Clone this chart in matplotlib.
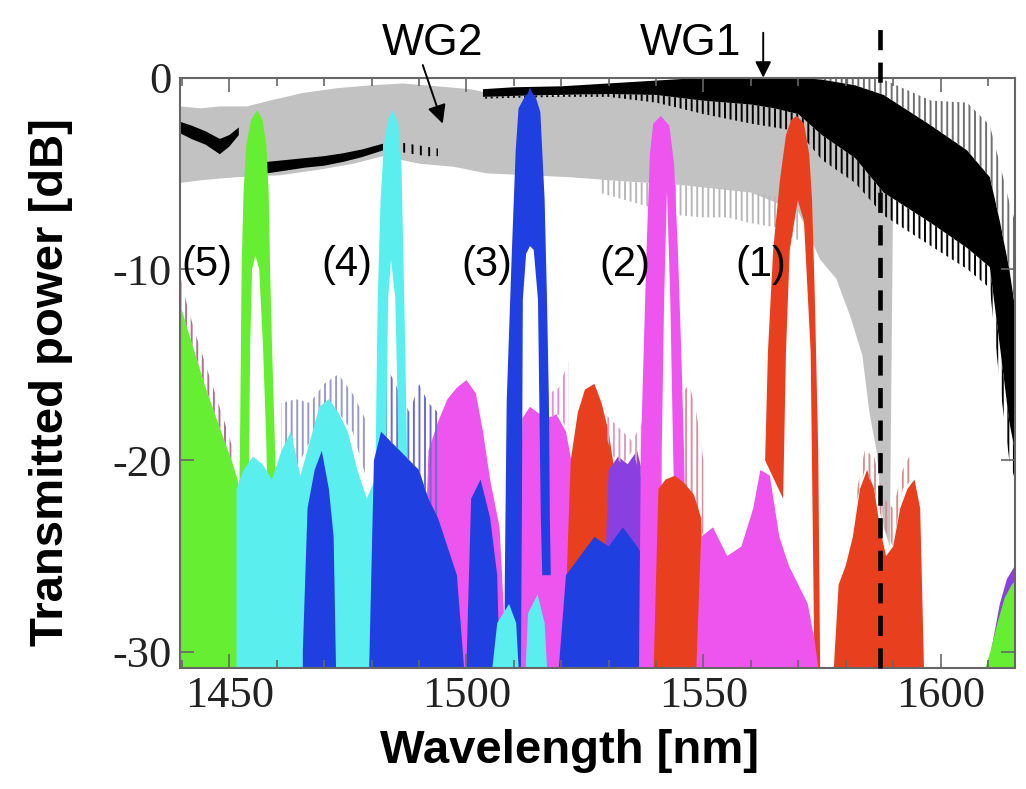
import numpy as np
import matplotlib
matplotlib.use("Agg")
import matplotlib.pyplot as plt

# ---- values: wavelength [nm], power [dB] ----

# WG2 (grey) upper / lower envelopes
wg2_hi_x = [1439.6, 1444, 1448, 1453.7, 1458.5, 1465.5, 1472.7, 1479.7, 1486.6, 1493.8,
            1500.8, 1507.7, 1518.2, 1532.4, 1545, 1560, 1570, 1580, 1587, 1590]
wg2_hi_y = [-1.5, -1.6, -1.5, -1.5, -1.2, -0.8, -0.55, -0.4, -0.3, -0.45,
            -0.6, -0.95, -0.95, -0.8, -0.6, -0.5, -0.6, -0.9, -1.2, -2.0]
wg2_lo_x = [1439.6, 1444.4, 1451.5, 1460.7, 1469.1, 1476.1, 1482.4, 1490.2, 1497.2, 1504.3,
            1521.8, 1532.4, 1545, 1560, 1570, 1574.6, 1578, 1581, 1583.5, 1585, 1586.5,
            1588, 1589.3, 1590]
wg2_lo_y = [-5.5, -5.35, -5.2, -5.1, -4.8, -4.5, -4.1, -4.5, -4.65, -5.0,
            -5.2, -5.4, -5.6, -6.0, -7.0, -9.5, -10.5, -12.5, -14.5, -17.5, -19.5,
            -23.5, -24.5, -6.0]
wg2_teeth_x = [1528, 1535, 1545, 1550, 1555, 1560, 1565, 1570]
wg2_teeth_hi = [-5.3, -5.45, -5.6, -5.7, -5.8, -6.0, -6.2, -7.0]
wg2_teeth_lo = [-6.0, -6.5, -7.2, -7.3, -7.3, -7.6, -7.8, -8.5]

# WG1 (black) in its visible pieces
wg1_a_x = [1439.6, 1442, 1445, 1448, 1450, 1452]
wg1_a_hi = [-2.3, -2.5, -2.8, -3.2, -3.0, -2.6]
wg1_a_lo = [-2.9, -3.2, -3.5, -4.0, -3.6, -3.0]
wg1_b_x = [1457.9, 1462, 1466, 1470, 1474, 1478, 1482.4]
wg1_b_hi = [-4.4, -4.3, -4.2, -4.1, -3.95, -3.75, -3.45]
wg1_b_lo = [-5.0, -4.85, -4.7, -4.6, -4.4, -4.15, -3.8]
wg1_gap_x = [1486.5, 1489, 1491.5, 1494]
wg1_gap_hi = [-3.4, -3.5, -3.6, -3.7]
wg1_gap_lo = [-3.9, -4.0, -4.1, -4.1]
wg1_c_x = [1503.5, 1510, 1520, 1530, 1540, 1550, 1560, 1565, 1570, 1575, 1582, 1588,
           1598, 1605.6, 1610.4, 1612.5, 1614.5, 1615.7]
wg1_c_hi = [-0.6, -0.5, -0.45, -0.3, -0.15, 0.0, 0.0, 0.0, 0.0, -0.1, -0.4, -0.9,
            -2.5, -3.8, -5.2, -7.5, -10.0, -12.0]
wg1_c_lo = [-1.0, -0.95, -0.9, -0.85, -0.9, -1.2, -1.4, -1.6, -1.9, -3.0, -4.2, -6.0,
            -7.6, -8.9, -9.9, -14.0, -18.0, -19.5]
wg1_c_fringe = [-1.1, -1.05, -1.0, -1.0, -1.3, -1.9, -2.4, -2.6, -2.8, -4.3, -5.5, -7.2,
                -8.8, -10.0, -11.0, -16.0, -20.0, -21.0]
wg1_c_halo = [-0.6, -0.5, -0.45, -0.3, -0.15, 0.0, 0.0, 0.0, 0.0, 0.0, 0.0, -0.1,
              -1.2, -1.3, -2.5, -4.5, -6.5, -7.5]

# filter passbands (outline of each peak, outer edge then inner edge)
peak5_x = [1452.0, 1452.3, 1452.6, 1453.0, 1453.6, 1454.6, 1455.9, 1457.0, 1457.8, 1458.3,
           1458.6, 1459.0, 1459.6, 1460.0, 1458.2, 1457.8, 1457.1, 1456.3, 1455.5, 1454.8,
           1454.4, 1454.2, 1454.0]
peak5_y = [-24.0, -18.0, -10.0, -6.0, -3.5, -2.2, -1.7, -2.2, -3.5, -6.0,
           -10.0, -14.0, -19.0, -24.0, -24.0, -19.0, -14.0, -10.0, -9.3, -10.0,
           -14.0, -19.0, -24.0]
peak4_x = [1480.7, 1481.0, 1481.3, 1481.9, 1482.6, 1483.4, 1484.5, 1485.6, 1486.3, 1486.9,
           1487.3, 1487.8, 1485.8, 1485.5, 1485.0, 1484.1, 1483.5, 1483.2, 1483.0]
peak4_y = [-24, -17, -11.6, -6.4, -3.5, -2.2, -1.7, -2.4, -4.5, -11.6,
           -17, -24, -24, -17, -11.5, -9.5, -11.5, -17, -24]
peak3_x = [1508.0, 1508.1, 1508.5, 1509.6, 1510.4, 1511.0, 1512.3, 1513.0, 1513.4, 1513.9,
           1514.6, 1515.6, 1516.5, 1517.0, 1517.4, 1517.6, 1517.8, 1516.0, 1515.7, 1515.1,
           1514.2, 1513.4, 1512.6, 1511.9, 1511.7, 1511.5]
peak3_y = [-30.8, -26.3, -16.9, -9.0, -3.8, -1.6, -1.0, -0.8, -0.5, -0.8,
           -1.0, -1.8, -6.4, -11.6, -16.9, -23.0, -26.0, -26.0, -23.0, -11.6,
           -9.0, -8.8, -9.2, -11.6, -23.0, -30.8]
peak2_x = [1536.4, 1536.8, 1537.4, 1538.0, 1538.7, 1539.4, 1541.0, 1542.8, 1543.8, 1544.6,
           1545.3, 1545.9, 1546.2, 1544.0, 1543.6, 1543.0, 1542.3, 1541.7, 1541.2, 1541.0]
peak2_y = [-30.8, -19.5, -14.2, -9.0, -4.0, -2.4, -2.0, -2.5, -4.5, -9.0,
           -14.2, -19.5, -24.0, -24.0, -19.5, -11.6, -5.9, -11.6, -19.5, -30.8]
peak1_x = [1563.0, 1563.6, 1564.7, 1566.1, 1567.4, 1568.5, 1569.7, 1571.2, 1572.3, 1572.9,
           1573.5, 1574.2, 1574.6, 1573.4, 1572.6, 1571.2, 1569.9, 1568.2, 1567.4, 1567.0,
           1566.8]
peak1_y = [-20.0, -14.3, -9.0, -5.4, -3.0, -2.2, -2.0, -2.4, -4.0, -6.4,
           -11.6, -19.5, -30.8, -30.8, -14.3, -7.5, -6.4, -9.0, -14.3, -19.5,
           -22.0]

# out-of-band noise floors (top edge, filled down to the axis)
green_l_x = [1439.6, 1441, 1443, 1445, 1447, 1449, 1450.5, 1451.5, 1452.2]
green_l_y = [-11.8, -13.0, -14.6, -16.2, -17.6, -19.0, -20.0, -20.8, -21.5]
green_r_x = [1609.5, 1610.5, 1612, 1613.5, 1615, 1615.7]
green_r_y = [-30.8, -30.0, -28.5, -27.2, -26.5, -26.3]
purple_r_x = [1610.0, 1611, 1612.5, 1614, 1615.7]
purple_r_y = [-30.8, -29.5, -27.5, -26.2, -25.5]
cyan_x = [1451.5, 1453, 1455, 1457, 1459, 1461, 1463, 1465, 1467, 1469, 1471, 1473,
          1475, 1477, 1479, 1480.7, 1481.5]
cyan_y = [-21.5, -20.5, -19.8, -20.2, -21.0, -19.5, -18.5, -20.8, -19.0, -17.2, -16.8, -17.5,
          -18.5, -20.5, -22.0, -21.0, -30.8]
cyan_b_x = [1505.5, 1506.5, 1509, 1510.5, 1511.0]
cyan_b_y = [-30.8, -28.5, -27.5, -28.5, -30.8]
cyan_c_x = [1512.5, 1513, 1515, 1516.5, 1517.0]
cyan_c_y = [-30.8, -28.0, -27.0, -28.5, -30.8]
blue_a_x = [1465.5, 1466.5, 1468, 1469.5, 1471, 1472.0, 1472.5]
blue_a_y = [-30.0, -22.5, -20.5, -19.5, -21.5, -24.0, -30.8]
blue_b_x = [1479.5, 1480.5, 1482, 1484, 1486, 1488, 1490, 1492, 1494, 1496, 1498, 1499.5]
blue_b_y = [-30.8, -20.0, -18.5, -19.0, -19.5, -20.0, -20.5, -22.0, -23.0, -24.5, -26.0, -30.8]
blue_c_x = [1500, 1501, 1503, 1505, 1506.5, 1507]
blue_c_y = [-30.8, -22.0, -21.0, -23.0, -26.0, -30.8]
blue_d_x = [1519.5, 1521, 1524, 1527, 1530, 1533, 1536, 1538.5, 1540.5, 1541.5]
blue_d_y = [-30.8, -26.0, -25.0, -24.0, -24.5, -23.5, -24.5, -25.5, -27.0, -30.8]
purple_x = [1528.5, 1530, 1532, 1534, 1536, 1537.5, 1538.5]
purple_y = [-30.8, -20.5, -19.8, -20.2, -19.5, -21.0, -30.8]
magenta_a_x = [1490.5, 1492, 1494, 1496, 1498, 1500, 1502, 1503.5, 1505, 1507, 1508.5]
magenta_a_y = [-30.8, -19.5, -18.0, -16.8, -16.2, -15.8, -16.5, -18.5, -21.0, -23.5, -30.8]
magenta_b_x = [1511.0, 1511.8, 1513.4, 1515.0, 1517.0, 1519.0, 1521.0, 1522.5, 1523.5]
magenta_b_y = [-30.8, -17.8, -17.2, -17.5, -17.8, -17.6, -18.5, -20.5, -30.8]
magenta_c_x = [1548.5, 1549.5, 1552, 1555, 1558, 1560.5, 1562, 1564, 1566, 1568, 1570,
               1572, 1573.5, 1574.2]
magenta_c_y = [-30.8, -24.0, -23.5, -25.0, -24.5, -22.5, -20.5, -20.8, -24.0, -25.5, -26.5,
               -27.5, -29.5, -30.8]
red_a_x = [1520.5, 1522, 1523.5, 1525, 1527, 1528.5, 1530, 1531.5, 1533]
red_a_y = [-30.8, -20.0, -17.5, -16.3, -16.0, -17.0, -18.5, -21.0, -30.8]
red_b_x = [1539.5, 1540.5, 1542, 1544, 1546, 1548, 1549.5, 1550.5]
red_b_y = [-30.8, -21.5, -21.0, -20.8, -21.2, -21.8, -23.0, -30.8]
red_c_x = [1577.5, 1578.5, 1580, 1581.5, 1583, 1584.5, 1586, 1587.2, 1588.5, 1590, 1591.5,
           1593, 1594.5, 1595.7, 1596.5]
red_c_y = [-30.8, -26.5, -25.5, -24.0, -21.5, -20.5, -21.5, -23.5, -25.0, -24.5, -22.5,
           -21.5, -21.0, -22.5, -30.8]

# thin spikes sticking out above the floors: (x, top, bottom)
spikes = [
    ([1439.6, 1441, 1443, 1445, 1447, 1449, 1450.5],
     [-10.3, -11.8, -13.5, -15.0, -16.5, -18.0, -19.2],
     [-11.8, -13.0, -14.6, -16.2, -17.6, -19.0, -20.0], "#b07090"),
    ([1461, 1464, 1467, 1470, 1473, 1476, 1479],
     [-17.0, -16.8, -17.0, -16.0, -15.5, -16.5, -18.0],
     [-19.5, -20.5, -19.0, -17.2, -17.5, -18.5, -21.0], "#9a9ac8"),
    ([1482, 1484, 1486, 1488, 1490, 1492, 1494],
     [-15.3, -15.5, -16.5, -17.5, -16.0, -17.0, -17.5],
     [-18.5, -19.0, -19.5, -20.0, -20.5, -22.0, -23.0], "#6a6ad0"),
    ([1515.5, 1517.5, 1519.5, 1521.5],
     [-16.0, -16.5, -16.2, -14.8],
     [-17.5, -17.8, -17.6, -18.5], "#e090e0"),
    ([1529, 1531, 1533, 1535, 1537],
     [-17.5, -18.0, -18.5, -19.0, -18.0],
     [-18.5, -19.8, -20.2, -19.5, -21.0], "#d8a0c0"),
    ([1545.5, 1547, 1548.5, 1550],
     [-16.5, -16.0, -17.5, -20.0],
     [-21.2, -21.8, -23.0, -24.0], "#d890a0"),
    ([1582, 1584, 1586, 1588, 1590, 1592, 1594],
     [-22.0, -19.5, -19.8, -22.0, -22.5, -20.5, -19.5],
     [-22.5, -20.5, -21.5, -23.5, -24.5, -21.5, -21.0], "#d09090"),
]

labels = ["(5)", "(4)", "(3)", "(2)", "(1)"]
label_x = [1445.3, 1474.8, 1504.3, 1533.4, 1562.1]
label_y = -9.8
cutoff_nm = 1587.2

GREEN, CYAN, BLUE = "#66ee33", "#5aeeee", "#1f3fe0"
MAGENTA, RED, PURPLE, GREY = "#ee55ee", "#e8401e", "#8a40e0", "#c2c2c2"
BOTTOM = -31.0

plt.rcParams["font.family"] = ["Liberation Serif", "DejaVu Serif"]
plt.rcParams["axes.unicode_minus"] = False
plt.rcParams["hatch.linewidth"] = 1.4


def floor(ax, xs, tops, color):
    px = [xs[0]] + list(xs) + [xs[-1]]
    py = [BOTTOM] + list(tops) + [BOTTOM]
    ax.fill(px, py, color=color, lw=0)


def band(ax, xs, hi, lo, color):
    xs = np.asarray(xs, float)
    ax.fill(np.concatenate([xs, xs[::-1]]),
            np.concatenate([hi, np.asarray(lo)[::-1]]), color=color, lw=0)


def striped(ax, xs, hi, lo, color, hatch="|||"):
    ax.fill_between(xs, lo, hi, facecolor="none", edgecolor=color,
                    hatch=hatch, linewidth=0)


fig = plt.figure(figsize=(10.26, 7.89), dpi=100)
ax = fig.add_axes([180 / 1026, 121 / 789, 835 / 1026, 590.3 / 789])

# waveguide transmission traces
ax.fill(wg2_hi_x + wg2_lo_x[::-1], wg2_hi_y + wg2_lo_y[::-1], color=GREY, lw=0)
striped(ax, wg2_teeth_x, wg2_teeth_hi, wg2_teeth_lo, "#b8b8b8")
band(ax, wg1_a_x, wg1_a_hi, wg1_a_lo, "black")
band(ax, wg1_b_x, wg1_b_hi, wg1_b_lo, "black")
striped(ax, wg1_gap_x, wg1_gap_hi, wg1_gap_lo, "black", hatch="||")
band(ax, wg1_c_x, wg1_c_hi, wg1_c_lo, "black")
striped(ax, wg1_c_x, wg1_c_lo, wg1_c_fringe, "black")
striped(ax, wg1_c_x, wg1_c_halo, wg1_c_hi, "#707070")

# noise floors that sit under the passbands
floor(ax, green_l_x, green_l_y, GREEN)
floor(ax, magenta_a_x, magenta_a_y, MAGENTA)
floor(ax, blue_c_x, blue_c_y, BLUE)
floor(ax, magenta_b_x, magenta_b_y, MAGENTA)
floor(ax, red_a_x, red_a_y, RED)
floor(ax, purple_x, purple_y, PURPLE)
floor(ax, blue_d_x, blue_d_y, BLUE)
floor(ax, red_c_x, red_c_y, RED)
floor(ax, purple_r_x, purple_r_y, PURPLE)
floor(ax, green_r_x, green_r_y, GREEN)
for xs, hi, lo, col in spikes:
    striped(ax, xs, hi, lo, col)

# passbands
for px, py, col in [(peak5_x, peak5_y, GREEN), (peak4_x, peak4_y, CYAN),
                    (peak3_x, peak3_y, BLUE), (peak2_x, peak2_y, MAGENTA),
                    (peak1_x, peak1_y, RED)]:
    ax.fill(px, py, color=col, lw=0)

# floors that cover the feet of the passbands
floor(ax, cyan_x, cyan_y, CYAN)
floor(ax, blue_a_x, blue_a_y, BLUE)
floor(ax, blue_b_x, blue_b_y, BLUE)
floor(ax, red_b_x, red_b_y, RED)
floor(ax, magenta_c_x, magenta_c_y, MAGENTA)
floor(ax, cyan_b_x, cyan_b_y, CYAN)
floor(ax, cyan_c_x, cyan_c_y, CYAN)

# cutoff marker running above the frame
ax.plot([cutoff_nm, cutoff_nm], [-30.85, 3.0], color="black", lw=3.3,
        dashes=(4.4, 2.7), clip_on=False, zorder=5)

for lab, lx in zip(labels, label_x):
    ax.text(lx, label_y, lab, ha="center", va="center", fontsize=30,
            family="Liberation Sans", zorder=6)

ax.text(1492.9, 1.19, "WG2", ha="center", va="baseline", fontsize=32,
        family="Liberation Sans")
ax.text(1547.3, 1.19, "WG1", ha="center", va="baseline", fontsize=32,
        family="Liberation Sans")
ax.annotate("", xy=(1495.0, -2.4), xytext=(1490.8, 0.66),
            arrowprops=dict(arrowstyle="-|>", lw=1.4, color="black",
                            mutation_scale=28, shrinkA=0, shrinkB=0))
ax.annotate("", xy=(1562.6, 0.0), xytext=(1562.6, 2.35),
            arrowprops=dict(arrowstyle="-|>", lw=1.4, color="black",
                            mutation_scale=24, shrinkA=0, shrinkB=0))

ax.set_xlim(1439.6, 1615.7)
ax.set_ylim(-30.85, 0)
ax.set_xticks([1450, 1500, 1550, 1600])
ax.set_xticks(np.arange(1440, 1616, 10), minor=True)
ax.set_yticks([0, -10, -20, -30])
ax.tick_params(which="both", direction="in", top=True, right=True,
               color="#666666", width=1.2, labelsize=32, labelcolor="#222222")
ax.tick_params(which="major", length=10, pad=6)
ax.tick_params(which="minor", length=6)
for sp in ax.spines.values():
    sp.set_color("#666666")
    sp.set_linewidth(1.5)

fig.text(51 / 1026, 1 - 382 / 789, "Transmitted power [dB]", rotation=90,
         ha="center", va="center", fontsize=34, weight="bold",
         family="Liberation Sans")
fig.text(570 / 1026, 1 - 751 / 789, "Wavelength [nm]", ha="center",
         va="center", fontsize=34, weight="bold", family="Liberation Sans")

fig.savefig("out.png", dpi=100)
